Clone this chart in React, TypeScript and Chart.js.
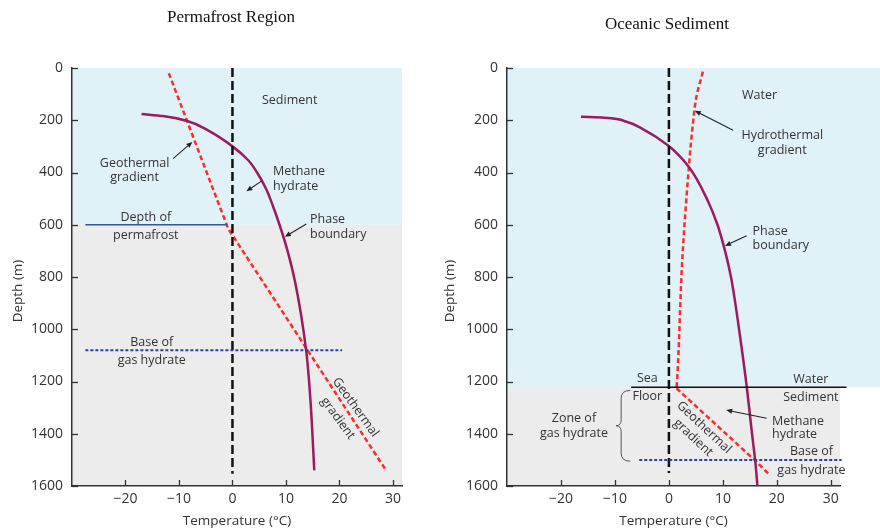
import React, { useEffect, useRef } from "react";
import { Chart, registerables } from "chart.js";

Chart.register(...registerables);

// ---------- shared axis ticks ----------
const TEMP_TICKS = [-20, -10, 0, 10, 20, 30];
const DEPTH_TICKS = [0, 200, 400, 600, 800, 1000, 1200, 1400, 1600];

// ---------- Permafrost region ----------
const pfPhaseTemp = [-17, -13, -8.6, -4.5, 0, 3.0, 4.6, 6.3, 7.6, 8.8, 10.3, 11.8, 13.8, 14.6, 15.3];
const pfPhaseDepth = [176, 184, 202, 240, 300, 354, 400, 463, 530, 600, 700, 828, 1085, 1277, 1540];
const pfGeoTemp = [-11.9, -0.8, 28.5];
const pfGeoDepth = [20, 615, 1533];
const pfZeroTemp = [0, 0];
const pfZeroDepth = [0, 1553];
const pfPermafrostTemp = [-27.5, -1];
const pfPermafrostDepth = [600, 600];
const pfBaseTemp = [-27.5, 20.5];
const pfBaseDepth = [1080, 1080];
const pfPermafrostBottom = 600;

// ---------- Oceanic sediment ----------
const ocPhaseTemp = [-16.3, -12, -8, -5.0, -0.2, 3.7, 7.2, 9.0, 10.4, 11.5, 12.3, 13.0, 14.3, 15.4, 16.0, 16.4];
const ocPhaseDepth = [187, 190, 205, 232, 296, 379, 508, 600, 700, 800, 900, 1000, 1200, 1400, 1505, 1600];
const ocHydroTemp = [6.3, 5.1, 4.5, 3.7, 2.5, 1.5, 1.4];
const ocHydroDepth = [14, 110, 203, 379, 726, 1200, 1226];
const ocGeoTemp = [1.4, 16.1, 18.4];
const ocGeoDepth = [1226, 1505, 1552];
const ocZeroTemp = [0, 0];
const ocZeroDepth = [0, 1550];
const ocSeaFloorTemp = [-7, 32.9];
const ocSeaFloorDepth = [1222, 1222];
const ocBaseTemp = [-5.5, 32];
const ocBaseDepth = [1500, 1500];
const ocSeaFloor = 1222;

const SANS = '"Open Sans", "DejaVu Sans", sans-serif';
const SERIF = '"Liberation Serif", "DejaVu Serif", serif';
const BLUE_BG = "#e1f1f8";
const GRAY_BG = "#ececed";
const PURPLE = "#9c1a5e";
const RED = "#ff2a2a";
const TEXT = "#333";

const zip = (xs: number[], ys: number[]) => xs.map((x, i) => ({ x, y: ys[i] }));

function lineDs(label: string, xs: number[], ys: number[], color: string, width: number, dash: number[], smooth = false) {
  const ds: any = {
    label,
    data: zip(xs, ys),
    showLine: true,
    borderColor: color,
    backgroundColor: color,
    borderWidth: width,
    borderDash: dash,
    pointRadius: 0,
    tension: 0,
    clip: false,
  };
  if (smooth) {
    ds.indexAxis = "y";
    ds.cubicInterpolationMode = "monotone";
  }
  return ds;
}

function arrow(ctx: CanvasRenderingContext2D, x1: number, y1: number, x2: number, y2: number) {
  ctx.save();
  ctx.strokeStyle = "#222";
  ctx.fillStyle = "#222";
  ctx.lineWidth = 1.1;
  const a = Math.atan2(y2 - y1, x2 - x1);
  const hl = 6, hw = 2.6;
  const bx = x2 - hl * Math.cos(a), by = y2 - hl * Math.sin(a);
  ctx.beginPath();
  ctx.moveTo(x1, y1);
  ctx.lineTo(bx, by);
  ctx.stroke();
  ctx.beginPath();
  ctx.moveTo(x2, y2);
  ctx.lineTo(bx + hw * Math.sin(a), by - hw * Math.cos(a));
  ctx.lineTo(bx - hw * Math.sin(a), by + hw * Math.cos(a));
  ctx.closePath();
  ctx.fill();
  ctx.restore();
}

type Note =
  | { kind: "text"; t: number; d: number; s: string; align?: CanvasTextAlign; rot?: number }
  | { kind: "arrow"; t1: number; d1: number; t2: number; d2: number }
  | { kind: "brace"; t: number; tip: number; d1: number; d2: number };

function makeDecor(title: string, titleX: number, titleY: number, depthTitleX: number, notes: Note[], bg: (chart: any) => void) {
  return {
    id: "decor-" + title.replace(/\s/g, ""),
    beforeDraw(chart: any) {
      bg(chart);
    },
    afterDraw(chart: any) {
      const ctx: CanvasRenderingContext2D = chart.ctx;
      const xs = chart.scales.x, ys = chart.scales.y;
      const area = chart.chartArea;
      ctx.save();
      // inner tick marks
      ctx.strokeStyle = "#333";
      ctx.lineWidth = 1.3;
      DEPTH_TICKS.forEach((v) => {
        const y = Math.round(ys.getPixelForValue(v)) + 0.5;
        ctx.beginPath();
        ctx.moveTo(area.left, y);
        ctx.lineTo(area.left + 6, y);
        ctx.stroke();
      });
      TEMP_TICKS.forEach((v) => {
        const x = Math.round(xs.getPixelForValue(v)) + 0.5;
        ctx.beginPath();
        ctx.moveTo(x, area.bottom);
        ctx.lineTo(x, area.bottom - 6);
        ctx.stroke();
      });
      // titles
      ctx.fillStyle = "#111";
      ctx.font = `17px ${SERIF}`;
      ctx.textAlign = "center";
      ctx.textBaseline = "middle";
      ctx.fillText(title, titleX, titleY);
      ctx.fillStyle = TEXT;
      ctx.font = `13.5px ${SANS}`;
      ctx.fillText("Temperature (°C)", (area.left + area.right) / 2, 521);
      ctx.save();
      ctx.translate(depthTitleX, 291);
      ctx.rotate(-Math.PI / 2);
      ctx.fillText("Depth (m)", 0, 0);
      ctx.restore();
      // notes
      ctx.font = `12.5px ${SANS}`;
      notes.forEach((n) => {
        if (n.kind === "text") {
          const x = xs.getPixelForValue(n.t), y = ys.getPixelForValue(n.d);
          ctx.save();
          ctx.translate(x, y);
          if (n.rot) ctx.rotate((n.rot * Math.PI) / 180);
          ctx.textAlign = n.align || "center";
          ctx.textBaseline = "middle";
          ctx.fillStyle = TEXT;
          ctx.fillText(n.s, 0, 0);
          ctx.restore();
        } else if (n.kind === "arrow") {
          arrow(ctx, xs.getPixelForValue(n.t1), ys.getPixelForValue(n.d1), xs.getPixelForValue(n.t2), ys.getPixelForValue(n.d2));
        } else {
          const x = xs.getPixelForValue(n.t), tip = xs.getPixelForValue(n.tip);
          const y1 = ys.getPixelForValue(n.d1), y2 = ys.getPixelForValue(n.d2);
          const ym = (y1 + y2) / 2, mx = (x + tip) / 2;
          ctx.strokeStyle = "#555";
          ctx.lineWidth = 1;
          ctx.beginPath();
          ctx.moveTo(x + 4, y1);
          ctx.quadraticCurveTo(mx, y1, mx, y1 + 8);
          ctx.lineTo(mx, ym - 6);
          ctx.quadraticCurveTo(mx, ym, tip, ym);
          ctx.quadraticCurveTo(mx, ym, mx, ym + 6);
          ctx.lineTo(mx, y2 - 8);
          ctx.quadraticCurveTo(mx, y2, x + 4, y2);
          ctx.stroke();
        }
      });
      ctx.restore();
    },
  };
}

function makeConfig(datasets: any[], areaLeft: number, areaRight: number, plugin: any) {
  const tickFont = { family: SANS, size: 14 };
  return {
    type: "scatter" as const,
    data: { datasets },
    options: {
      animation: false as const,
      responsive: false,
      maintainAspectRatio: false,
      layout: { padding: { left: 0, right: 440 - areaRight, top: 68, bottom: 0 } },
      plugins: { legend: { display: false }, tooltip: { enabled: false }, title: { display: false } },
      scales: {
        x: {
          type: "linear" as const,
          min: -30,
          max: 31.7,
          afterFit: (s: any) => { s.height = 44; },
          afterBuildTicks: (s: any) => { s.ticks = TEMP_TICKS.map((v) => ({ value: v })); },
          ticks: {
            padding: 5,
            color: TEXT,
            font: tickFont,
            callback: (v: any) => (v < 0 ? "\u2212" + Math.abs(v) : String(v)),
          },
          grid: { display: true, drawOnChartArea: false, drawTicks: false },
          border: { display: true, color: "#333", width: 1.5 },
        },
        y: {
          type: "linear" as const,
          reverse: true,
          min: 0,
          max: 1600,
          afterFit: (s: any) => { s.width = areaLeft; },
          afterBuildTicks: (s: any) => { s.ticks = DEPTH_TICKS.map((v) => ({ value: v })); },
          ticks: { padding: 9, color: TEXT, font: tickFont, callback: (v: any) => String(v) },
          grid: { display: true, drawOnChartArea: false, drawTicks: false },
          border: { display: true, color: "#333", width: 1.5 },
        },
      },
    },
    plugins: [plugin],
  };
}

const pfNotes: Note[] = [
  { kind: "text", t: 10.7, d: 123, s: "Sediment" },
  { kind: "text", t: -18.3, d: 364, s: "Geothermal" },
  { kind: "text", t: -18.3, d: 420, s: "gradient" },
  { kind: "arrow", t1: -11.1, d1: 347, t2: -7.5, d2: 283 },
  { kind: "text", t: 7.6, d: 396, s: "Methane", align: "left" },
  { kind: "text", t: 7.6, d: 453, s: "hydrate", align: "left" },
  { kind: "arrow", t1: 5.4, d1: 433, t2: 2.6, d2: 472 },
  { kind: "text", t: 14.5, d: 578, s: "Phase", align: "left" },
  { kind: "text", t: 14.5, d: 636, s: "boundary", align: "left" },
  { kind: "arrow", t1: 13.8, d1: 597, t2: 9.8, d2: 646 },
  { kind: "text", t: -16.2, d: 572, s: "Depth of" },
  { kind: "text", t: -16.2, d: 642, s: "permafrost" },
  { kind: "text", t: -15.1, d: 1049, s: "Base of" },
  { kind: "text", t: -15.1, d: 1120, s: "gas hydrate" },
  { kind: "text", t: 23.0, d: 1299, s: "Geothermal", rot: 54 },
  { kind: "text", t: 19.7, d: 1341, s: "gradient", rot: 54 },
];

const ocNotes: Note[] = [
  { kind: "text", t: 16.8, d: 104, s: "Water" },
  { kind: "text", t: 21, d: 258, s: "Hydrothermal" },
  { kind: "text", t: 21, d: 314, s: "gradient" },
  { kind: "arrow", t1: 11.9, d1: 238, t2: 4.8, d2: 164 },
  { kind: "text", t: 15.5, d: 626, s: "Phase", align: "left" },
  { kind: "text", t: 15.5, d: 681, s: "boundary", align: "left" },
  { kind: "arrow", t1: 14.4, d1: 642, t2: 10.4, d2: 681 },
  { kind: "text", t: -4, d: 1187, s: "Sea" },
  { kind: "text", t: -4, d: 1258, s: "Floor" },
  { kind: "text", t: 26.3, d: 1194, s: "Water" },
  { kind: "text", t: 26.3, d: 1262, s: "Sediment" },
  { kind: "text", t: 19.1, d: 1351, s: "Methane", align: "left" },
  { kind: "text", t: 19.1, d: 1403, s: "hydrate", align: "left" },
  { kind: "arrow", t1: 18.1, d1: 1341, t2: 10.6, d2: 1309 },
  { kind: "text", t: 26.4, d: 1467, s: "Base of" },
  { kind: "text", t: 26.4, d: 1540, s: "gas hydrate" },
  { kind: "text", t: 6.5, d: 1376, s: "Geothermal", rot: 43 },
  { kind: "text", t: 4.5, d: 1415, s: "gradient", rot: 43 },
  { kind: "text", t: -17.6, d: 1341, s: "Zone of" },
  { kind: "text", t: -17.6, d: 1399, s: "gas hydrate" },
  { kind: "brace", t: -7.9, tip: -9.8, d1: 1234, d2: 1505 },
];

export default function App() {
  const leftRef = useRef<HTMLCanvasElement>(null);
  const rightRef = useRef<HTMLCanvasElement>(null);

  useEffect(() => {
    const pfBg = (chart: any) => {
      const ctx = chart.ctx, a = chart.chartArea, ys = chart.scales.y;
      const yb = ys.getPixelForValue(pfPermafrostBottom);
      ctx.save();
      ctx.fillStyle = BLUE_BG;
      ctx.fillRect(a.left, a.top, a.right - a.left, yb - a.top);
      ctx.fillStyle = GRAY_BG;
      ctx.fillRect(a.left, yb, a.right - a.left, a.bottom - yb);
      ctx.restore();
    };
    const ocBg = (chart: any) => {
      const ctx = chart.ctx, a = chart.chartArea, ys = chart.scales.y;
      const yb = ys.getPixelForValue(ocSeaFloor);
      ctx.save();
      ctx.fillStyle = BLUE_BG;
      ctx.fillRect(a.left, a.top, chart.width - a.left, yb - a.top);
      ctx.fillStyle = GRAY_BG;
      ctx.fillRect(a.left, yb, a.right - a.left, a.bottom - yb);
      ctx.restore();
    };

    const left = new Chart(
      leftRef.current as HTMLCanvasElement,
      makeConfig(
        [
          lineDs("Depth of permafrost", pfPermafrostTemp, pfPermafrostDepth, "#2f55a4", 1.5, []),
          lineDs("Base of gas hydrate", pfBaseTemp, pfBaseDepth, "#2c3e9e", 2, [3, 2]),
          lineDs("0 °C", pfZeroTemp, pfZeroDepth, "#111", 2.5, [9, 4]),
          lineDs("Phase boundary", pfPhaseTemp, pfPhaseDepth, PURPLE, 2.5, [], true),
          lineDs("Geothermal gradient", pfGeoTemp, pfGeoDepth, RED, 2.5, [5, 3]),
        ],
        72,
        402,
        makeDecor("Permafrost Region", 231, 18, 18, pfNotes, pfBg)
      ) as any
    );
    const right = new Chart(
      rightRef.current as HTMLCanvasElement,
      makeConfig(
        [
          lineDs("Sea floor", ocSeaFloorTemp, ocSeaFloorDepth, "#111", 1.3, []),
          lineDs("Base of gas hydrate", ocBaseTemp, ocBaseDepth, "#2c3e9e", 2, [3, 2]),
          lineDs("0 °C", ocZeroTemp, ocZeroDepth, "#111", 2.5, [9, 4]),
          lineDs("Phase boundary", ocPhaseTemp, ocPhaseDepth, PURPLE, 2.5, [], true),
          lineDs("Hydrothermal gradient", ocHydroTemp, ocHydroDepth, RED, 2.5, [5, 3], true),
          lineDs("Geothermal gradient", ocGeoTemp, ocGeoDepth, RED, 2.5, [5, 3]),
        ],
        67,
        400,
        makeDecor("Oceanic Sediment", 227, 25, 10, ocNotes, ocBg)
      ) as any
    );
    return () => {
      left.destroy();
      right.destroy();
    };
  }, []);

  return (
    <div style={{ position: "fixed", left: 0, top: 0, width: 880, height: 530, background: "#fff" }}>
      <canvas ref={leftRef} width={440} height={530} style={{ position: "absolute", left: 0, top: 0 }} />
      <canvas ref={rightRef} width={440} height={530} style={{ position: "absolute", left: 440, top: 0 }} />
    </div>
  );
}
